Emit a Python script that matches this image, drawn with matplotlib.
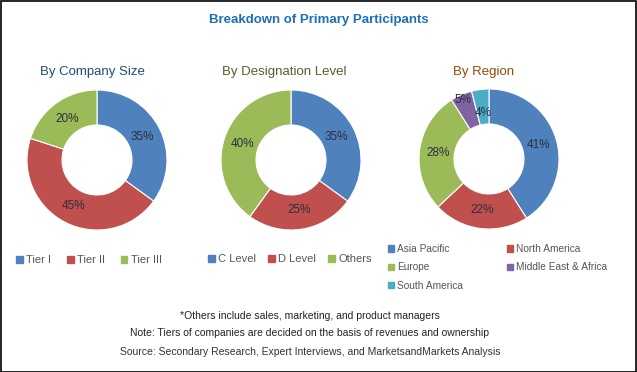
import numpy as np
import matplotlib.pyplot as plt
from matplotlib.patches import Rectangle, Patch

# data
size_labels = ["Tier I", "Tier II", "Tier III"]
size_values = [35, 45, 20]
desig_labels = ["C Level", "D Level", "Others"]
desig_values = [35, 25, 40]
region_labels = ["Asia Pacific", "North America", "Europe",
                 "Middle East & Africa", "South America"]
region_values = [41, 22, 28, 5, 4]

colors = ["#4F81BD", "#C0504D", "#9BBB59", "#8064A2", "#4BACC6"]
W, H = 637, 372
plt.rcParams["font.family"] = ["Liberation Sans", "DejaVu Sans"]

fig = plt.figure(figsize=(W / 100, H / 100), dpi=100)
ax = fig.add_axes([0, 0, 1, 1])


def donut(values, cx, cy, r=70, dists=None):
    wedges, texts = ax.pie(
        values, colors=colors[:len(values)], startangle=90, counterclock=False,
        center=(cx, H - cy), radius=r, labels=[f"{v}%" for v in values],
        labeldistance=0.73, textprops=dict(fontsize=8.5, color="#2A2F3F"),
        wedgeprops=dict(width=r * 0.5, edgecolor="white", linewidth=0.8),
        frame=True)
    for i, (w, t) in enumerate(zip(wedges, texts)):
        t.set_ha("center")
        t.set_va("center")
        if dists is not None:
            ang = np.deg2rad((w.theta1 + w.theta2) / 2)
            d = dists[i] * r
            t.set_position((cx + d * np.cos(ang), H - cy + d * np.sin(ang)))
    return wedges


donut(size_values, 97, 160)
donut(desig_values, 291, 160)
donut(region_values, 489, 159, dists=[0.73, 0.73, 0.73, 0.92, 0.66])
ax.set_xlim(0, W)
ax.set_ylim(0, H)
ax.set_aspect("equal")
ax.axis("off")

fig.text(0.5, 1 - 20 / H, "Breakdown of Primary Participants", ha="center",
         va="center", fontsize=9.5, fontweight="bold", color="#1F6FB5")
fig.text(92 / W, 1 - 72 / H, "By Company Size", ha="center", va="center",
         fontsize=9.5, color="#1F4E79")
fig.text(284 / W, 1 - 72 / H, "By Designation Level", ha="center", va="center",
         fontsize=9.5, color="#4F6228")
fig.text(484 / W, 1 - 72 / H, "By Region", ha="center", va="center",
         fontsize=9.5, color="#984807")


def make_legend(labels, idx, ncol, loc, anchor, colspace, rowspace=0.55,
                size=8):
    handles = [Patch(color=colors[i], label=labels[i]) for i in idx]
    leg = fig.legend(handles=handles, ncol=ncol, loc=loc,
                     bbox_to_anchor=anchor, frameon=False, fontsize=size,
                     handlelength=0.6, handleheight=0.6, handletextpad=0.3,
                     columnspacing=colspace, labelspacing=rowspace,
                     labelcolor="#555555", borderaxespad=0, borderpad=0)
    return leg


make_legend(size_labels, [0, 1, 2], 3, "center", (89 / W, 1 - 260 / H), 1.4)
make_legend(desig_labels, [0, 1, 2], 3, "center", (290 / W, 1 - 259 / H), 1.1)
# row-wise order in the reference: fill columns as AP/Europe/SA, NA/MEA
make_legend(region_labels, [0, 2, 4, 1, 3], 2, "upper left",
            (388 / W, 1 - 244 / H), 4.3, 0.82, size=7.3)

notes = ["*Others include sales, marketing, and product managers",
         "Note: Tiers of companies are decided on the basis of revenues and ownership"]
fig.text(310 / W, 1 - 316 / H, notes[0], ha="center", va="center",
         fontsize=7.5, color="#222222")
fig.text(310 / W, 1 - 333 / H, notes[1], ha="center", va="center",
         fontsize=7.5, color="#222222")
fig.text(310 / W, 1 - 352 / H,
         "Source: Secondary Research, Expert Interviews, and MarketsandMarkets Analysis",
         ha="center", va="center", fontsize=7.5, color="#333333")

fig.patches.append(Rectangle((0.5 / W, 0.5 / H), 1 - 1.5 / W, 1 - 1.5 / H,
                             transform=fig.transFigure, fill=False,
                             edgecolor="black", linewidth=1.2))

fig.savefig("out.png", dpi=100)
